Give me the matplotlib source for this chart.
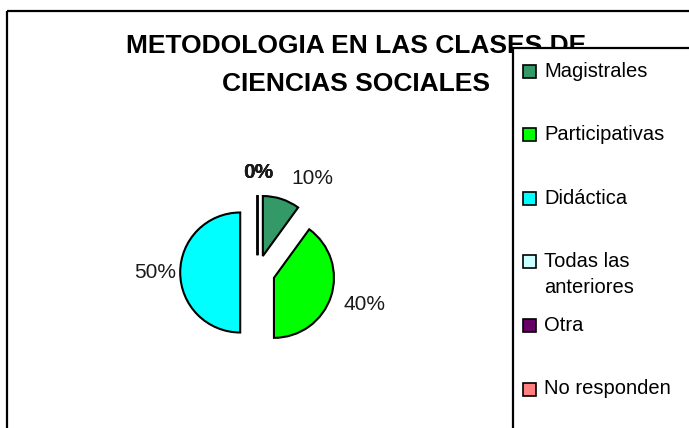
import matplotlib
matplotlib.use("Agg")
import matplotlib.pyplot as plt
from matplotlib.patches import Rectangle

# ---- data ----
categories = ["Magistrales", "Participativas", "Didáctica",
              "Todas las\nanteriores", "Otra", "No responden"]
values = [10, 40, 50, 0, 0, 0]
colors = ["#339966", "#00FF00", "#00FFFF", "#CCFFFF", "#660066", "#FF8080"]
title = "METODOLOGIA EN LAS CLASES DE\nCIENCIAS SOCIALES"

W, H = 689, 428
plt.rcParams['font.family'] = ['Liberation Sans', 'DejaVu Sans']

fig = plt.figure(figsize=(W / 100, H / 100), dpi=100)
ax = fig.add_axes([0, 0, 1, 1])

def Y(y):
    return H - y

# pie
radius = 60
wedges, texts, autotexts = ax.pie(
    values, colors=colors, startangle=90, counterclock=False,
    explode=[17.3] * len(values), radius=radius, center=(257.5, Y(272.5)),
    autopct='%.0f%%', pctdistance=1.45, frame=True,
    wedgeprops=dict(edgecolor='black', linewidth=1.5),
    textprops=dict(fontsize=15, color='#1a1a1a'))
ax.set_xlim(0, W)
ax.set_ylim(0, H)
ax.set_aspect('equal')
ax.axis('off')
# outside-end label placement like the original
autotexts[0].set_position((312, Y(178)))
autotexts[1].set_position((364, Y(305)))
autotexts[2].set_position((155, Y(272)))
for t in autotexts[3:]:
    t.set_position((258, Y(172)))
    t.set_fontweight('bold')

# outer chart frame (extends beyond the visible area)
ax.add_patch(Rectangle((7, Y(11)), W + 50, -(H + 50), fill=False,
                       edgecolor='black', linewidth=1.6, clip_on=False, zorder=1))

# title (partly hidden behind the legend box, as in the original)
ax.text(356, Y(65), title, ha='center', va='center', fontsize=19,
        fontweight='bold', linespacing=1.69, zorder=2)

# legend (manual, Excel style)
ax.add_patch(Rectangle((513, Y(47.5)), W, -(H + 50), facecolor='white',
                       edgecolor='black', linewidth=1.6, clip_on=False, zorder=5))
step = 63.6
for i, (lab, col) in enumerate(zip(categories, colors)):
    yc = 71 + i * step
    ax.add_patch(Rectangle((523, Y(yc) - 6.5), 13, 13, facecolor=col,
                           edgecolor='black', linewidth=1.2, zorder=6))
    for k, line in enumerate(lab.split('\n')):
        ax.text(544, Y(yc + k * 26), line, ha='left', va='center',
                fontsize=14.5, zorder=6)

fig.savefig("out.png", dpi=100)
